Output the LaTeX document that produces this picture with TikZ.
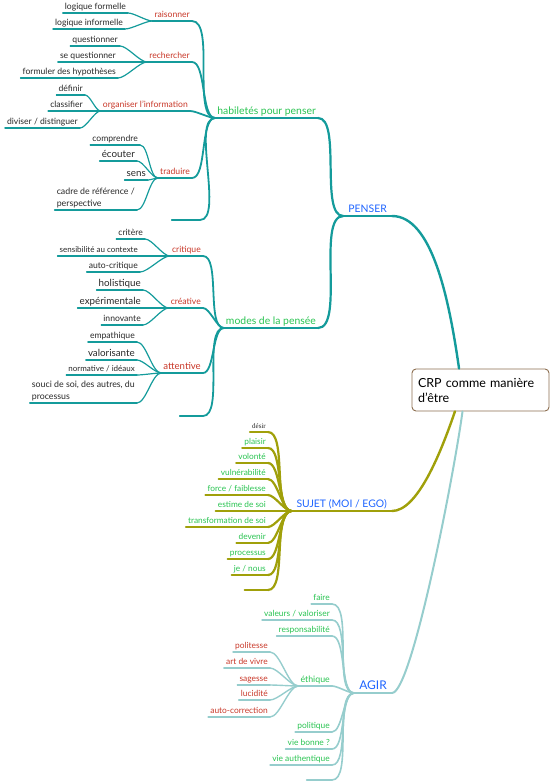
\documentclass[tikz,border=0pt]{standalone}
\usepackage{fontspec}
\setmainfont{Lato}
\newfontfamily\serifface{Liberation Serif}

\definecolor{pensercol}{RGB}{20,155,155}
\definecolor{sujetcol}{RGB}{160,160,10}
\definecolor{agircol}{RGB}{150,205,205}
\definecolor{labelred}{RGB}{200,55,40}
\definecolor{labelgreen}{RGB}{40,195,80}
\definecolor{labelblue}{RGB}{30,100,255}
\definecolor{ink}{RGB}{40,40,40}
\definecolor{rootframe}{RGB}{140,110,80}

\begin{document}
\begin{tikzpicture}
  [x=1pt,y=-1pt,
  ul/.style 2 args={append after command={(\tikzlastnode.south west) edge[draw=#1,line width=#2,line cap=round] (\tikzlastnode.south east)}},
  txt/.style={anchor=south east,inner xsep=2pt,inner ysep=1.5pt,text depth=2pt},
  leaf/.style={txt,text=ink,font=\fontsize{8.6}{10}\selectfont,ul={pensercol}{1.2pt}},
  bigleaf/.style={leaf,font=\fontsize{9.8}{11.5}\selectfont},
  smallleaf/.style={leaf,font=\fontsize{8}{9.5}\selectfont},
  longleaf/.style={anchor=south east,inner xsep=2pt,inner ysep=1.5pt,align=left,text=ink,font=\fontsize{8.8}{12}\selectfont,ul={pensercol}{1.2pt}},
  sub/.style={txt,text=labelred,font=\fontsize{8.6}{10}\selectfont,ul={pensercol}{1.6pt}},
  topic/.style={txt,text=labelgreen,font=\fontsize{10.4}{12}\selectfont,ul={pensercol}{2pt}},
  main/.style={txt,text=labelblue,font=\fontsize{10.4}{12}\selectfont,inner xsep=5pt,ul={#1}{2.4pt}},
  sleaf/.style={txt,text=labelgreen,font=\fontsize{8.3}{9.6}\selectfont,ul={sujetcol}{2.2pt}},
  aleaf/.style={txt,text=labelgreen,font=\fontsize{8.4}{9.6}\selectfont,ul={agircol}{1.4pt}},
  root/.style={draw=rootframe,line width=0.9pt,rounded corners=4pt,fill=white,minimum width=137pt,minimum height=42pt,text width=125pt,align=left,font=\fontsize{12.5}{15}\selectfont,inner sep=6pt},
  link/.style={out=0,in=180,looseness=0.6},
  pline/.style={draw=pensercol,line cap=round},
  sline/.style={draw=sujetcol,line cap=round},
  aline/.style={draw=agircol,line cap=round}]

  \useasboundingbox (0,0) rectangle (550,782);

  \node (root) [root] at (480.5,390) {CRP comme manière\\d'être};

  % PENSER
  \node (pens) [main=pensercol] at (392,216) {PENSER};
  \node (hab) [topic] at (318,118) {habiletés pour penser};
  \node (modes) [topic] at (318,328) {modes de la pensée};

  \node (rais) [sub] at (192,21) {raisonner};
  \node (lf1) [leaf] at (128,13) {logique formelle};
  \node (lf2) [leaf] at (125,29) {logique informelle};

  \node (rech) [sub] at (192,62) {rechercher};
  \node (q1) [leaf] at (120,46) {questionner};
  \node (q2) [leaf] at (118,62) {se questionner};
  \node (q3) [leaf] at (118,78) {formuler des hypothèses};

  \node (org) [sub] at (190,111) {organiser l'information};
  \node (o1) [leaf] at (85,95) {définir};
  \node (o2) [leaf] at (85,111) {classifier};
  \node (o3) [leaf] at (80,128) {diviser / distinguer};

  \node (trad) [sub] at (192,178) {traduire};
  \node (t1) [leaf] at (140,145) {comprendre};
  \node (t2) [bigleaf] at (137,161) {écouter};
  \node (t3) [bigleaf] at (148,180) {sens};
  \node (t4) [longleaf] at (137,210) {cadre de référence /\\perspective};
  \node (s1) [leaf,minimum width=28pt] at (200,220) {};

  \node (crit) [sub] at (203,256) {critique};
  \node (c1) [leaf] at (145,239) {critère};
  \node (c2) [smallleaf] at (140,256) {sensibilité au contexte};
  \node (c3) [leaf] at (140,272) {auto-critique};

  \node (crea) [sub] at (203,308) {créative};
  \node (r1) [bigleaf] at (143,290) {holistique};
  \node (r2) [bigleaf] at (143,308) {expérimentale};
  \node (r3) [leaf] at (143,325) {innovante};

  \node (att) [sub,font=\fontsize{9.6}{11}\selectfont] at (203,373) {attentive};
  \node (a1) [leaf] at (137,342) {empathique};
  \node (a2) [bigleaf] at (137,360) {valorisante};
  \node (a3) [smallleaf] at (137,375) {normative / idéaux};
  \node (a4) [longleaf] at (137,403) {souci de soi, des autres, du\\processus};
  \node (s2) [leaf,minimum width=23pt] at (203,416) {};

  \draw [pline,line width=2.4pt] (pens.south east) .. controls +(40,0) and +(-10,-70) .. (root.135);
  \foreach \t in {hab,modes} \draw [pline,line width=2.2pt] (\t.south east) to[link] (pens.south west);
  \foreach \t in {rais,rech,org,trad,s1} \draw [pline,line width=1.8pt] (\t.south east) to[link] (hab.south west);
  \foreach \t in {crit,crea,att,s2} \draw [pline,line width=1.8pt] (\t.south east) to[link] (modes.south west);
  \foreach \t in {lf1,lf2} \draw [pline,line width=1.2pt] (\t.south east) to[link] (rais.south west);
  \foreach \t in {q1,q2,q3} \draw [pline,line width=1.2pt] (\t.south east) to[link] (rech.south west);
  \foreach \t in {o1,o2,o3} \draw [pline,line width=1.2pt] (\t.south east) to[link] (org.south west);
  \foreach \t in {t1,t2,t3,t4} \draw [pline,line width=1.2pt] (\t.south east) to[link] (trad.south west);
  \foreach \t in {c1,c2,c3} \draw [pline,line width=1.2pt] (\t.south east) to[link] (crit.south west);
  \foreach \t in {r1,r2,r3} \draw [pline,line width=1.2pt] (\t.south east) to[link] (crea.south west);
  \foreach \t in {a1,a2,a3,a4} \draw [pline,line width=1.2pt] (\t.south east) to[link] (att.south west);

  % SUJET
  \node (suj) [main=sujetcol] at (392,511) {SUJET (MOI / EGO)};
  \node (j1) [sleaf,text=ink,font=\serifface\fontsize{7}{8}\selectfont] at (268,432) {désir};
  \node (j2) [sleaf] at (268,448) {plaisir};
  \node (j3) [sleaf] at (268,463) {volonté};
  \node (j4) [sleaf] at (268,479) {vulnérabilité};
  \node (j5) [sleaf] at (268,495) {force / faiblesse};
  \node (j6) [sleaf] at (268,511) {estime de soi};
  \node (j7) [sleaf] at (268,527) {transformation de soi};
  \node (j8) [sleaf] at (268,543) {devenir};
  \node (j9) [sleaf] at (268,559) {processus};
  \node (j10) [sleaf] at (268,575) {je / nous};
  \node (s3) [sleaf,minimum width=23pt] at (268,590) {};

  \draw [sline,line width=2.4pt] (suj.south east) .. controls +(25,0) and +(-15,44) .. (root.-140);
  \foreach \t in {j1,j2,j3,j4,j5,j6,j7,j8,j9,j10,s3} \draw [sline,line width=2.2pt] (\t.south east) to[link] (suj.south west);

  % AGIR
  \node (agir) [main=agircol,font=\fontsize{12}{14}\selectfont] at (392,693) {AGIR};
  \node (g1) [aleaf] at (332,604) {faire};
  \node (g2) [aleaf] at (332,620) {valeurs / valoriser};
  \node (g3) [aleaf] at (332,636) {responsabilité};
  \node (eth) [aleaf,font=\fontsize{8.8}{10}\selectfont,ul={agircol}{1.8pt}] at (332,686) {éthique};
  \node (e1) [aleaf,text=labelred] at (270,652) {politesse};
  \node (e2) [aleaf,text=labelred] at (270,668) {art de vivre};
  \node (e3) [aleaf,text=labelred] at (270,685) {sagesse};
  \node (e4) [aleaf,text=labelred] at (270,700) {lucidité};
  \node (e5) [aleaf,text=labelred] at (270,717) {auto-correction};
  \node (g4) [aleaf] at (332,732) {politique};
  \node (g5) [aleaf] at (332,749) {vie bonne ?};
  \node (g6) [aleaf] at (332,765) {vie authentique};
  \node (s4) [aleaf,minimum width=25pt] at (332,780) {};

  \draw [aline,line width=2pt] (agir.south east) .. controls +(20,0) and +(-8,60) .. (root.-130);
  \foreach \t in {g1,g2,g3,eth,g4,g5,g6,s4} \draw [aline,line width=1.6pt] (\t.south east) to[link] (agir.south west);
  \foreach \t in {e1,e2,e3,e4,e5} \draw [aline,line width=1.4pt] (\t.south east) to[link] (eth.south west);
\end{tikzpicture}
\end{document}
